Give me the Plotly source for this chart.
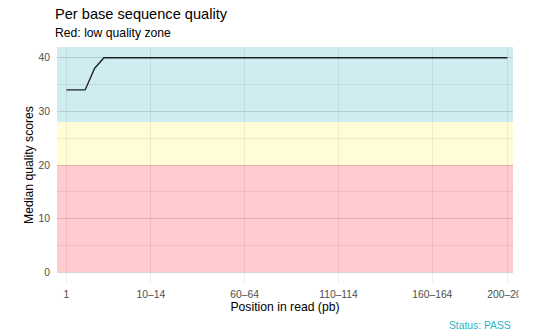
import plotly.graph_objects as go

# Per-position bins along the read
positions = [
    "1", "2", "3", "4", "5", "6", "7", "8", "9",
    "10–14", "15–19", "20–24", "25–29", "30–34", "35–39", "40–44", "45–49",
    "50–54", "55–59", "60–64", "65–69", "70–74", "75–79", "80–84", "85–89",
    "90–94", "95–99", "100–104", "105–109", "110–114", "115–119", "120–124",
    "125–129", "130–134", "135–139", "140–144", "145–149", "150–154",
    "155–159", "160–164", "165–169", "170–174", "175–179", "180–184",
    "185–189", "190–194", "195–199", "200–204",
]

# Median Phred quality at each bin
median_quality = [
    34, 34, 34, 38, 40, 40, 40, 40, 40,
    40, 40, 40, 40, 40, 40, 40, 40,
    40, 40, 40, 40, 40, 40, 40, 40,
    40, 40, 40, 40, 40, 40, 40,
    40, 40, 40, 40, 40, 40,
    40, 40, 40, 40, 40, 40,
    40, 40, 40, 40,
]

# Labelled positions on the x axis
x_ticks = ["1", "10–14", "60–64", "110–114", "160–164", "200–204"]
y_ticks = [0, 10, 20, 30, 40]

# Quality zones: (lower bound, upper bound, fill)
zone_bounds = [(0, 20), (20, 28), (28, 42)]
zone_fills = ["#FFCCD0", "#FFFCD6", "#CFECF0"]

FONT = "Liberation Sans, Arial, Helvetica, sans-serif"
GRID = "rgba(0,0,0,0.065)"

fig = go.Figure()

fig.add_trace(go.Scatter(
    x=positions,
    y=median_quality,
    mode="lines",
    line=dict(color="rgba(0,0,0,0.85)", width=1.4),
    hoverinfo="x+y",
    showlegend=False,
))

for (lo, hi), fill in zip(zone_bounds, zone_fills):
    fig.add_shape(
        type="rect", xref="x domain", yref="y",
        x0=0, x1=1, y0=lo, y1=hi,
        fillcolor=fill, line=dict(width=0), layer="below",
    )

# the last tick label runs off the right edge of the image
fig.add_shape(
    type="rect", xref="paper", yref="paper",
    x0=1.0124, x1=1.08, y0=-0.08, y1=-0.01,
    fillcolor="white", line=dict(width=0), layer="above",
)

fig.update_layout(
    width=540, height=334,
    margin=dict(l=57, r=24, t=47, b=51),
    paper_bgcolor="white", plot_bgcolor="white",
    font=dict(family=FONT, color="#000000"),
    title=dict(
        text="Per base sequence quality",
        font=dict(size=14.6, color="#000000"),
        xref="container", x=55 / 540, xanchor="left",
        yref="container", y=1 - 14 / 334, yanchor="middle",
    ),
    annotations=[
        dict(
            text="Red: low quality zone", showarrow=False,
            xref="paper", x=-0.009, xanchor="left",
            yref="paper", y=(283 - 33) / 236, yanchor="middle",
            font=dict(size=12.2, color="#000000"),
        ),
        dict(
            text="Status: PASS", showarrow=False,
            xref="paper", x=1.0, xanchor="right",
            yref="paper", y=(283 - 325) / 236, yanchor="middle",
            font=dict(size=10.3, color="#26B5C8"),
        ),
    ],
    xaxis=dict(
        type="category",
        categoryorder="array", categoryarray=positions,
        range=[-1.0, 47.6],
        tickmode="array", tickvals=x_ticks, ticktext=x_ticks,
        showgrid=True, gridcolor=GRID, gridwidth=1,
        zeroline=False, showline=False,
        ticks="", ticklabelstandoff=4,
        tickfont=dict(size=10.3, color="#4D4D4D"),
        title=dict(text="Position in read (pb)", standoff=3,
                   font=dict(size=12.2, color="#000000")),
    ),
    yaxis=dict(
        range=[-2, 42],
        tickmode="array", tickvals=y_ticks,
        showgrid=True, gridcolor=GRID, gridwidth=1,
        minor=dict(dtick=5, tick0=0, showgrid=True, gridcolor=GRID, gridwidth=0.6),
        zeroline=False, showline=False,
        ticks="", ticklabelstandoff=6,
        tickfont=dict(size=10.3, color="#4D4D4D"),
        title=dict(text="Median quality scores", standoff=2,
                   font=dict(size=12.2, color="#000000")),
    ),
)

fig.write_html("out.html")
